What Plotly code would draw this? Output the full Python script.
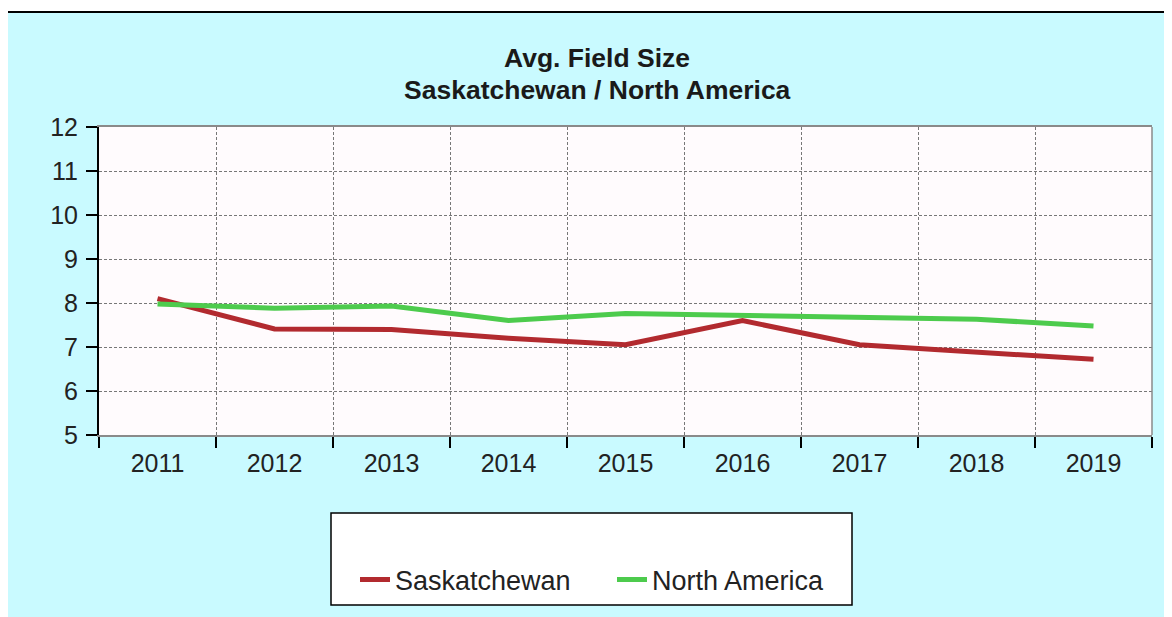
import plotly.graph_objects as go

years = ["2011", "2012", "2013", "2014", "2015", "2016", "2017", "2018", "2019"]
saskatchewan = [8.1, 7.41, 7.4, 7.2, 7.05, 7.6, 7.05, 6.88, 6.72]
north_america = [7.98, 7.88, 7.93, 7.6, 7.76, 7.72, 7.68, 7.63, 7.48]
y_ticks = [5, 6, 7, 8, 9, 10, 11, 12]

RED = "#B22A2F"
GREEN = "#4DCB4D"
CYAN = "#C9FAFF"
FONT = "Liberation Sans, Arial, sans-serif"

OFF = 8  # page body margin
W, H = 1172 - OFF, 617 - OFF
L, R, T, B = 99 - OFF, 20, 127 - OFF, 182
PW, PH = W - L - R, H - T - B


def px(x):
    return (x - OFF - L) / PW


def py(y):
    return (H - B - (y - OFF)) / PH


fig = go.Figure()
fig.add_trace(go.Scatter(x=years, y=saskatchewan, mode="lines", name="Saskatchewan",
                         line=dict(color=RED, width=5)))
fig.add_trace(go.Scatter(x=years, y=north_america, mode="lines", name="North America",
                         line=dict(color=GREEN, width=5)))

shapes = [
    # white strips outside the outer frame
    dict(type="rect", xref="paper", yref="paper", x0=px(-5), x1=px(1200), y0=py(-5), y1=py(11),
         fillcolor="white", line=dict(width=0), layer="above"),
    dict(type="rect", xref="paper", yref="paper", x0=px(-5), x1=px(6), y0=py(-5), y1=py(640),
         fillcolor="white", line=dict(width=0), layer="above"),
    # frame lines
    dict(type="line", xref="paper", yref="paper", x0=px(6), x1=px(1200), y0=py(12), y1=py(12),
         line=dict(color="black", width=2), layer="above"),
    dict(type="line", xref="paper", yref="paper", x0=px(7), x1=px(7), y0=py(12), y1=py(640),
         line=dict(color="black", width=2), layer="above"),
    # right plot border (gray)
    dict(type="line", xref="paper", yref="paper", x0=1, x1=1, y0=0, y1=1,
         line=dict(color="#8a8a8a", width=1.5), layer="above"),
    # legend box
    dict(type="rect", xref="paper", yref="paper", x0=px(331), x1=px(852), y0=py(513), y1=py(605),
         fillcolor="white", line=dict(color="black", width=1.5), layer="above"),
]

annotations = [
    dict(text="<b>Avg. Field Size</b>", xref="paper", yref="paper", x=px(597), y=py(58),
         xanchor="center", yanchor="middle", showarrow=False,
         font=dict(family=FONT, size=26.5, color="#1a1a1a")),
    dict(text="<b>Saskatchewan / North America</b>", xref="paper", yref="paper", x=px(597), y=py(90),
         xanchor="center", yanchor="middle", showarrow=False,
         font=dict(family=FONT, size=26.5, color="#1a1a1a")),
]

fig.update_layout(
    width=W, height=H,
    margin=dict(l=L, r=R, t=T, b=B, pad=0),
    paper_bgcolor=CYAN,
    plot_bgcolor="#FFFBFD",
    font=dict(family=FONT, size=25, color="#222222"),
    shapes=shapes,
    annotations=annotations,
    showlegend=True,
    legend=dict(orientation="h", x=px(355), y=py(580), xanchor="left", yanchor="middle",
                bgcolor="rgba(0,0,0,0)", borderwidth=0, entrywidth=212,
                font=dict(family=FONT, size=27, color="#222222"), itemclick=False),
    xaxis=dict(
        type="category", tickson="boundaries", range=[-0.5, 8.5],
        showline=True, linecolor="#8a8a8a", linewidth=1.5, mirror=True,
        ticks="outside", ticklen=11, tickwidth=2, tickcolor="black",
        showgrid=True, gridcolor="#777777", gridwidth=1, griddash="3px,2px",
        tickfont=dict(family=FONT, size=25, color="#222222"),
        ticklabelstandoff=5,
        zeroline=False, fixedrange=True,
    ),
    yaxis=dict(
        range=[5, 12], tickvals=y_ticks,
        showline=True, linecolor="black", linewidth=2, mirror=False,
        ticks="outside", ticklen=11, tickwidth=2, tickcolor="black",
        showgrid=True, gridcolor="#777777", gridwidth=1, griddash="3px,2px",
        tickfont=dict(family=FONT, size=25, color="#222222"),
        ticklabelstandoff=3,
        zeroline=False, fixedrange=True,
    ),
)

fig.write_html("out.html")
